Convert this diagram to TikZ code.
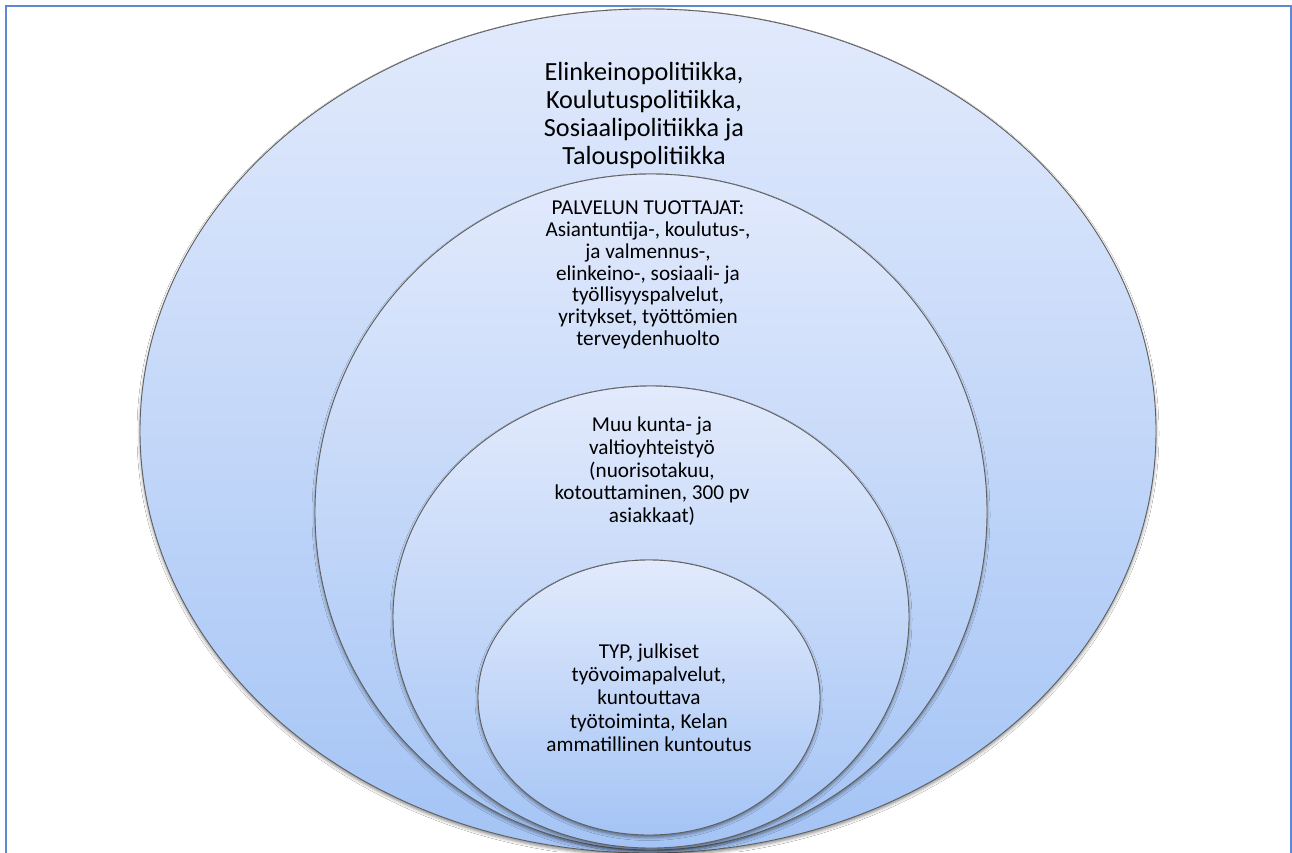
\documentclass[tikz,border=0pt]{standalone}
\usepackage{fontspec}
\setmainfont{Carlito}
\usetikzlibrary{shapes.geometric,shadows.blur}
\definecolor{frameblue}{RGB}{91,138,210}
\definecolor{ringtop}{RGB}{226,234,252}
\definecolor{ringbot}{RGB}{164,196,245}
\definecolor{ringline}{RGB}{95,95,95}
\tikzset{
  ring/.style={ellipse, draw=ringline, line width=0.9pt, inner sep=0pt,
    top color=ringtop, bottom color=ringbot,
    blur shadow={shadow xshift=0pt, shadow yshift=-2.5pt, shadow blur radius=3pt, shadow opacity=45}},
  bigtext/.style={align=center, inner sep=0pt, text=black, font=\fontsize{26.2}{28.3}\selectfont},
  midtext/.style={align=center, inner sep=0pt, text=black, font=\fontsize{21.2}{21.7}\selectfont},
  lowtext/.style={align=center, inner sep=0pt, text=black, font=\fontsize{21.2}{22.7}\selectfont},
  coretext/.style={align=center, inner sep=0pt, text=black, font=\fontsize{21.2}{23.3}\selectfont},
}
\begin{document}
\begin{tikzpicture}[x=1pt,y=-1pt]
\useasboundingbox (0,0) rectangle (1292,852);
\fill[white] (0,0) rectangle (1292,852);
% frame
\coordinate (fbl) at (6,880);
\coordinate (ftl) at (6,6);
\coordinate (ftr) at (1291,6);
\coordinate (fbr) at (1291,880);
\draw[frameblue, line width=2pt] (fbl) -- (ftl) -- (ftr) -- (fbr);
% rings
\node[ring, minimum width=1016pt, minimum height=844pt] (outer) at (648,431) {};
\node[ring, minimum width=672pt, minimum height=676pt] (second) at (651,512) {};
\node[ring, minimum width=516pt, minimum height=462pt] (third) at (651,617) {};
\node[ring, minimum width=342pt, minimum height=275pt] (core) at (649,697.5) {};
% texts
\node[bigtext] (tpol) at (644,116.8) {\strut Elinkeinopolitiikka,\\Koulutuspolitiikka,\\Sosiaalipolitiikka ja\\Talouspolitiikka\strut};
\node[midtext] (tprod) at (648,275.7) {\strut PALVELUN TUOTTAJAT:\\Asiantuntija-, koulutus-,\\ja valmennus-,\\elinkeino-, sosiaali- ja\\työllisyyspalvelut,\\yritykset, työttömien\\terveydenhuolto\strut};
\node[lowtext] (tmuu) at (652,472.5) {\strut Muu kunta- ja\\valtioyhteistyö\\(nuorisotakuu,\\kotouttaminen, 300 pv\\asiakkaat)\strut};
\node[coretext] (ttyp) at (649,700.3) {\strut TYP, julkiset\\työvoimapalvelut,\\kuntouttava\\työtoiminta, Kelan\\ammatillinen kuntoutus\strut};
\end{tikzpicture}
\end{document}
